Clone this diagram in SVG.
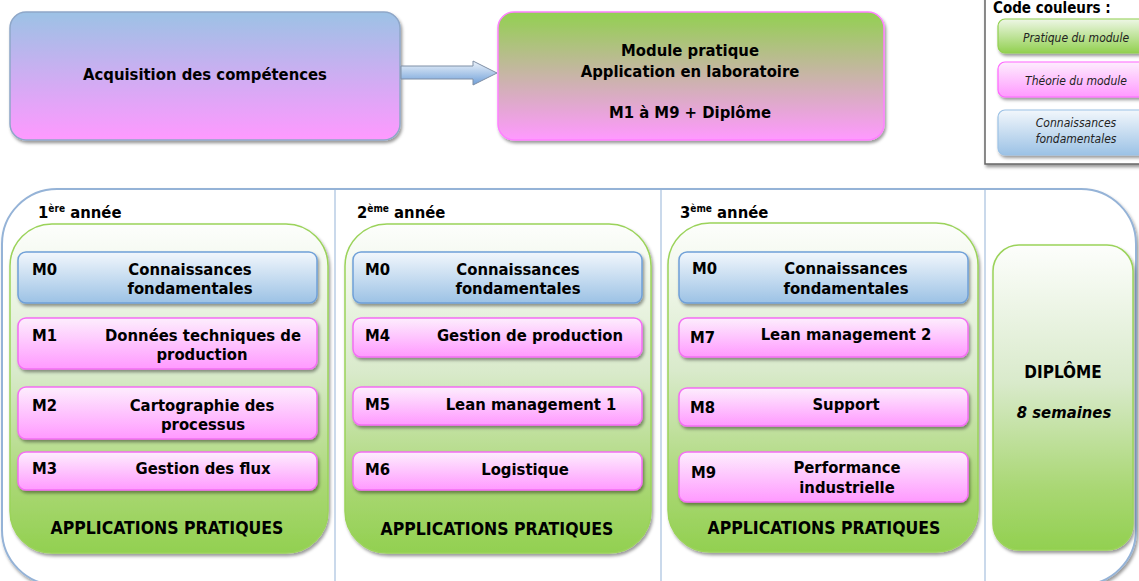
<svg xmlns="http://www.w3.org/2000/svg" width="1139" height="581" viewBox="0 0 1139 581">
<defs>
<linearGradient id="gBluePink" x1="0" y1="0" x2="0" y2="1"><stop offset="0" stop-color="#9cc2e5"/><stop offset="1" stop-color="#ff99ff"/></linearGradient>
<linearGradient id="gGreenPink" x1="0" y1="0" x2="0" y2="1"><stop offset="0" stop-color="#92d050"/><stop offset="1" stop-color="#ff99ff"/></linearGradient>
<linearGradient id="gBlue" x1="0" y1="0" x2="0" y2="1"><stop offset="0" stop-color="#f2f7fc"/><stop offset="1" stop-color="#9cc2e5"/></linearGradient>
<linearGradient id="gPink" x1="0" y1="0" x2="0" y2="1"><stop offset="0" stop-color="#fdeefd"/><stop offset="1" stop-color="#ff99ff"/></linearGradient>
<linearGradient id="gGreenL" x1="0" y1="0" x2="0" y2="1"><stop offset="0" stop-color="#eef7e6"/><stop offset="1" stop-color="#92d050"/></linearGradient>
<linearGradient id="gPanel" x1="0" y1="0" x2="0" y2="1"><stop offset="0" stop-color="#fdfefc"/><stop offset="0.45" stop-color="#d9eacb"/><stop offset="0.8" stop-color="#a9d773"/><stop offset="1" stop-color="#92d050"/></linearGradient>
<linearGradient id="gArrow" x1="0" y1="0" x2="0" y2="1"><stop offset="0" stop-color="#eef4fb"/><stop offset="1" stop-color="#6f9fd8"/></linearGradient>
<filter id="sh" x="-10%" y="-10%" width="120%" height="130%"><feDropShadow dx="1.5" dy="2.5" stdDeviation="1.5" flood-color="#000" flood-opacity="0.4"/></filter>
</defs>
<style>
text{font-family:"DejaVu Sans Condensed","DejaVu Sans","Liberation Sans",sans-serif;font-weight:bold;fill:#000;}
.m{font-size:16.5px;}
.c{text-anchor:middle;}
.lg{font-size:12px;font-weight:normal;font-style:italic;fill:#222;text-anchor:middle;}
.blue{fill:url(#gBlue);stroke:#6fa0d8;stroke-width:1.5;}
.pink{fill:url(#gPink);stroke:#f46ef4;stroke-width:1.5;}
.panel{fill:url(#gPanel);stroke:#9bd35a;stroke-width:1.5;}
.ap{font-size:17.5px;text-anchor:middle;}
.yr{font-size:16.5px;}
.sup{font-size:10px;}
</style>

<g id="acquisition">
<rect x="10" y="12" width="390" height="128" rx="16" fill="url(#gBluePink)" stroke="#8fa7c8" stroke-width="1.5" filter="url(#sh)"/>
<text x="205" y="80" class="c" font-size="16.5">Acquisition des compétences</text>
</g>

<g id="module-pratique">
<rect x="498" y="12" width="386" height="128" rx="16" fill="url(#gGreenPink)" stroke="#ff80ff" stroke-width="1.5" filter="url(#sh)"/>
<text x="690" y="56" class="c" font-size="16.5">Module pratique</text>
<text x="690" y="77" class="c" font-size="16.5">Application en laboratoire</text>
<text x="690" y="118" class="c" font-size="16.5">M1 à M9 + Diplôme</text>
</g>

<g id="connectors">
<path d="M401,66 L473,66 L473,61 L497,73 L473,85 L473,79 L401,79 Z" fill="url(#gArrow)" stroke="#7f8fa6" stroke-width="1"/>
</g>

<g id="legend">
<rect x="985" y="-5" width="160" height="169" fill="#fff" stroke="#666" stroke-width="1.5" filter="url(#sh)"/>
<text x="993" y="13" font-size="15">Code couleurs :</text>
<rect x="998" y="19" width="150" height="34" rx="7" fill="url(#gGreenL)" stroke="#92d050" stroke-width="1.2" filter="url(#sh)"/>
<text x="1076" y="42" class="lg">Pratique du module</text>
<rect x="998" y="62" width="150" height="35" rx="7" fill="url(#gPink)" stroke="#ff66ff" stroke-width="1.2" filter="url(#sh)"/>
<text x="1076" y="85" class="lg">Théorie du module</text>
<rect x="998" y="110" width="150" height="45" rx="7" fill="url(#gBlue)" stroke="#9cc2e5" stroke-width="1.2" filter="url(#sh)"/>
<text x="1076" y="127" class="lg">Connaissances</text>
<text x="1076" y="143" class="lg">fondamentales</text>
</g>

<g id="cursus">
<rect x="2" y="189" width="1134" height="396" rx="55" fill="#fff" stroke="#95b3d7" stroke-width="2" filter="url(#sh)"/>
<line x1="335" y1="189" x2="335" y2="581" stroke="#95b3d7" stroke-width="1"/>
<line x1="661" y1="189" x2="661" y2="581" stroke="#95b3d7" stroke-width="1"/>
<line x1="985" y1="189" x2="985" y2="581" stroke="#95b3d7" stroke-width="1"/>
</g>

<g id="annee1">
<text x="38" y="218" class="yr">1<tspan class="sup" dy="-6">ère</tspan><tspan dy="6"> année</tspan></text>
<rect x="10" y="224" width="318" height="329" rx="42" class="panel" filter="url(#sh)"/>
<g id="a1-m0"><rect x="18" y="252" width="299" height="51" rx="8" class="blue" filter="url(#sh)"/>
<text x="32" y="275" class="m">M0</text><text x="190" y="275" class="m c">Connaissances</text><text x="190" y="294" class="m c">fondamentales</text></g>
<g id="a1-m1"><rect x="18" y="318" width="299" height="51" rx="8" class="pink" filter="url(#sh)"/>
<text x="32" y="341" class="m">M1</text><text x="203" y="341" class="m c">Données techniques de</text><text x="202" y="360" class="m c">production</text></g>
<g id="a1-m2"><rect x="18" y="387" width="299" height="52" rx="8" class="pink" filter="url(#sh)"/>
<text x="32" y="411" class="m">M2</text><text x="202" y="411" class="m c">Cartographie des</text><text x="203" y="430" class="m c">processus</text></g>
<g id="a1-m3"><rect x="18" y="452" width="299" height="38" rx="8" class="pink" filter="url(#sh)"/>
<text x="32" y="474" class="m">M3</text><text x="203" y="474" class="m c">Gestion des flux</text></g>
<text x="167" y="534" class="ap">APPLICATIONS PRATIQUES</text>
</g>

<g id="annee2">
<text x="357" y="218" class="yr">2<tspan class="sup" dy="-6">ème</tspan><tspan dy="6"> année</tspan></text>
<rect x="345" y="224" width="306" height="329" rx="42" class="panel" filter="url(#sh)"/>
<g id="a2-m0"><rect x="353" y="252" width="289" height="51" rx="8" class="blue" filter="url(#sh)"/>
<text x="365" y="275" class="m">M0</text><text x="518" y="275" class="m c">Connaissances</text><text x="518" y="294" class="m c">fondamentales</text></g>
<g id="a2-m4"><rect x="353" y="318" width="289" height="39" rx="8" class="pink" filter="url(#sh)"/>
<text x="365" y="341" class="m">M4</text><text x="530" y="341" class="m c">Gestion de production</text></g>
<g id="a2-m5"><rect x="353" y="387" width="289" height="38" rx="8" class="pink" filter="url(#sh)"/>
<text x="365" y="410" class="m">M5</text><text x="531" y="410" class="m c">Lean management 1</text></g>
<g id="a2-m6"><rect x="353" y="452" width="289" height="38" rx="8" class="pink" filter="url(#sh)"/>
<text x="365" y="475" class="m">M6</text><text x="525" y="475" class="m c">Logistique</text></g>
<text x="497" y="535" class="ap">APPLICATIONS PRATIQUES</text>
</g>

<g id="annee3">
<text x="680" y="218" class="yr">3<tspan class="sup" dy="-6">ème</tspan><tspan dy="6"> année</tspan></text>
<rect x="668" y="223" width="310" height="329" rx="42" class="panel" filter="url(#sh)"/>
<g id="a3-m0"><rect x="679" y="252" width="289" height="51" rx="8" class="blue" filter="url(#sh)"/>
<text x="692" y="274" class="m">M0</text><text x="846" y="274" class="m c">Connaissances</text><text x="846" y="294" class="m c">fondamentales</text></g>
<g id="a3-m7"><rect x="679" y="318" width="289" height="39" rx="8" class="pink" filter="url(#sh)"/>
<text x="690" y="343" class="m">M7</text><text x="846" y="340" class="m c">Lean management 2</text></g>
<g id="a3-m8"><rect x="679" y="388" width="289" height="38" rx="8" class="pink" filter="url(#sh)"/>
<text x="690" y="413" class="m">M8</text><text x="846" y="410" class="m c">Support</text></g>
<g id="a3-m9"><rect x="679" y="452" width="289" height="50" rx="8" class="pink" filter="url(#sh)"/>
<text x="691" y="478" class="m">M9</text><text x="847" y="473" class="m c">Performance</text><text x="847" y="493" class="m c">industrielle</text></g>
<text x="824" y="534" class="ap">APPLICATIONS PRATIQUES</text>
</g>

<g id="diplome">
<rect x="993" y="245" width="140" height="305" rx="26" class="panel" filter="url(#sh)"/>
<text x="1063" y="378" class="c" font-size="17">DIPLÔME</text>
<text x="1064" y="418" class="c" font-size="16.5" font-style="italic">8 semaines</text>
</g>
</svg>
